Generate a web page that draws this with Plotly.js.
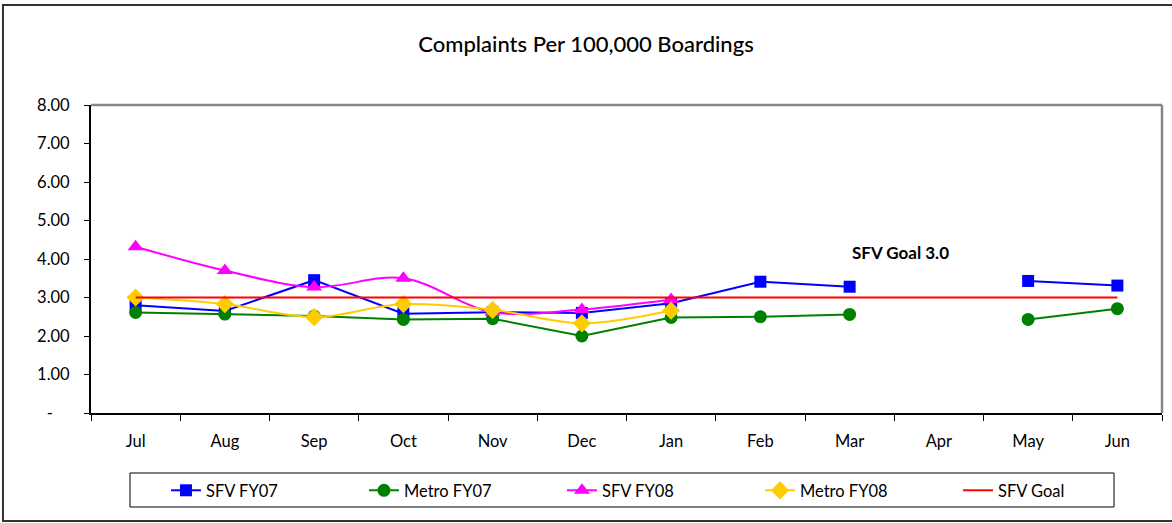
<!DOCTYPE html>
<html>
<head>
<meta charset="utf-8">
<script src="https://cdn.plot.ly/plotly-3.0.1.min.js"></script>
<style>html,body{margin:0;padding:0;background:#fff;}#chart{width:1172px;height:523px;}</style>
</head>
<body>
<div id="chart"></div>
<script>
var months = ["Jul","Aug","Sep","Oct","Nov","Dec","Jan","Feb","Mar","Apr","May","Jun"];
var sfvFY07   = [2.80, 2.65, 3.45, 2.58, 2.62, 2.60, 2.85, 3.41, 3.28, null, 3.43, 3.31];
var metroFY07 = [2.61, 2.57, 2.52, 2.43, 2.45, 2.00, 2.48, 2.50, 2.56, null, 2.43, 2.71];
var sfvFY08   = [4.32, 3.70, 3.27, 3.50, 2.62, 2.69, 2.95, null, null, null, null, null];
var metroFY08 = [3.00, 2.83, 2.49, 2.83, 2.68, 2.33, 2.66, null, null, null, null, null];
var sfvGoal   = [3.0, 3.0, 3.0, 3.0, 3.0, 3.0, 3.0, 3.0, 3.0, 3.0, 3.0, 3.0];
var yTickVals = [0, 1, 2, 3, 4, 5, 6, 7, 8];
var yTickText = ["-\u00a0\u00a0\u00a0\u00a0", "1.00", "2.00", "3.00", "4.00", "5.00", "6.00", "7.00", "8.00"];
var goalLabel = "SFV Goal 3.0";

var FONT = "Lato, 'Open Sans', sans-serif";

var traces = [
  {x: months, y: sfvFY07, name: "SFV FY07", mode: "lines+markers",
   line: {color: "#0000FF", width: 2}, marker: {symbol: "square", size: 12, color: "#0000FF"}},
  {x: months, y: metroFY07, name: "Metro FY07", mode: "lines+markers",
   line: {color: "#008000", width: 2}, marker: {symbol: "circle", size: 13, color: "#008000"}},
  {x: months, y: sfvFY08, name: "SFV FY08", mode: "lines+markers",
   line: {color: "#FF00FF", width: 2, shape: "spline", smoothing: 1}, marker: {symbol: "triangle-up", size: 14, color: "#FF00FF"}},
  {x: months, y: metroFY08, name: "Metro FY08", mode: "lines+markers",
   line: {color: "#FFCC00", width: 2, shape: "spline", smoothing: 1}, marker: {symbol: "diamond", size: 14, color: "#FFCC00"}},
  {x: months, y: sfvGoal, name: "SFV Goal", mode: "lines",
   line: {color: "#FF0000", width: 2}}
];

var layout = {
  width: 1172, height: 523,
  margin: {l: 91, r: 10, t: 105, b: 110, autoexpand: false},
  paper_bgcolor: "#ffffff", plot_bgcolor: "#ffffff",
  font: {family: FONT, size: 16, color: "#000"},
  title: {text: "Complaints Per 100,000 Boardings", font: {family: FONT, size: 22, color: "#000", weight: 500},
          x: 0.5, xanchor: "center", y: 0.915, yanchor: "middle", yref: "container"},
  showlegend: true,
  legend: {orientation: "h", x: 0.07, xanchor: "left", y: -0.195, yanchor: "top",
           borderwidth: 0, bgcolor: "rgba(0,0,0,0)", entrywidth: 153, entrywidthmode: "pixels",
           font: {family: FONT, size: 16.5, color: "#000"}, traceorder: "normal"},
  xaxis: {type: "category", categoryorder: "array", categoryarray: months,
          range: [-0.5, 11.5], showline: true, linecolor: "#000", linewidth: 2,
          ticks: "outside", tickson: "boundaries", ticklen: 6, tickcolor: "#000", tickwidth: 1,
          showgrid: false, zeroline: false, ticklabelstandoff: 12,
          tickfont: {family: FONT, size: 16.5, color: "#000"}},
  yaxis: {range: [0, 8], tickvals: yTickVals, ticktext: yTickText,
          showline: true, linecolor: "#000", linewidth: 2,
          ticks: "outside", ticklen: 5, tickcolor: "#000", tickwidth: 1,
          showgrid: false, zeroline: false, ticklabelstandoff: 11,
          tickfont: {family: FONT, size: 16.5, color: "#000"}},
  shapes: [
    {type: "line", xref: "paper", yref: "paper", x0: 0, x1: 1, y0: 1, y1: 1, line: {color: "#878787", width: 2.5}},
    {type: "line", xref: "paper", yref: "paper", x0: 1, x1: 1, y0: 0, y1: 1, line: {color: "#878787", width: 2.5}},
    {type: "rect", xref: "paper", yref: "paper", x0: 0.0364, x1: 0.9552, y0: -0.1948, y1: -0.3052, line: {color: "#000", width: 1}},
    {type: "rect", xref: "paper", yref: "paper", x0: -0.0822, x1: 1.02, y0: 1.3247, y1: -0.3506, line: {color: "#333", width: 2}}
  ],
  annotations: [
    {text: "<b>" + goalLabel + "</b>", xref: "paper", yref: "y", x: 0.7554, y: 4.16, xanchor: "center", yanchor: "middle",
     showarrow: false, font: {family: FONT, size: 17, color: "#000"}}
  ]
};

Plotly.newPlot("chart", traces, layout, {displayModeBar: false, staticPlot: true});
</script>
</body>
</html>
